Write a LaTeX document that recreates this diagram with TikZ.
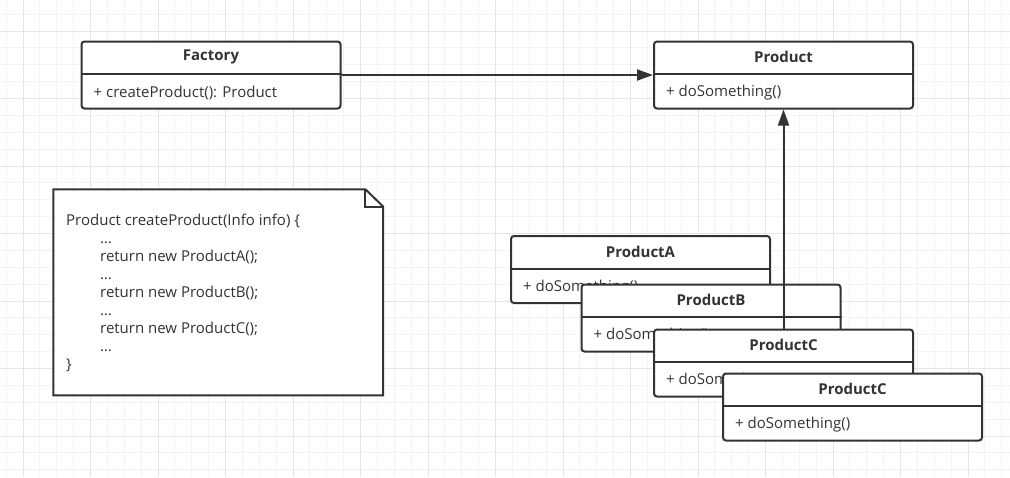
\documentclass[tikz,border=0pt]{standalone}
\usepackage{fontspec}
\setmainfont{Open Sans}
\usetikzlibrary{arrows.meta}
\pgfdeclarelayer{bg}
\pgfdeclarelayer{low}
\pgfsetlayers{bg,low,main}
\definecolor{ln}{HTML}{333333}
\definecolor{gmin}{HTML}{F3F3F3}
\definecolor{gmaj}{HTML}{E6E6E6}
\tikzset{
  classbox/.style={draw=ln, fill=white, line width=2pt, rounded corners=3pt,
    minimum width=259pt, minimum height=67pt, inner sep=0pt, anchor=north west},
  ctitle/.style={font=\fontsize{15}{17}\selectfont\bfseries, text=ln, inner sep=0pt},
  cmember/.style={font=\fontsize{15}{17}\selectfont, text=ln, inner sep=0pt, anchor=west},
  divider/.style={draw=ln, line width=2pt},
  conn/.style={draw=ln, line width=2pt, -{Triangle[length=16pt,width=11pt]}},
  minorgrid/.style={draw=gmin, line width=1pt},
  majorgrid/.style={draw=gmaj, line width=1pt},
}
\newcommand\umlclass[5]{%
  \node[classbox] (#1) at (#2,#3) {};
  \draw[divider] ([yshift=-33.5pt]#1.north west) -- ([yshift=-33.5pt]#1.north east);
  \node[ctitle] (#1-t) at ([yshift=-16.75pt]#1.north) {#4};
  \node[cmember] (#1-m) at ([xshift=13pt,yshift=16.75pt]#1.south west) {#5};
}
\begin{document}
\begin{tikzpicture}[x=1pt,y=-1pt]
\useasboundingbox (0,0) rectangle (1010,477);
\begin{pgfonlayer}{bg}
  \fill[white] (0,0) rectangle (1010,477);
  \foreach \i in {0,...,60} {\draw[minorgrid] ({6.125+\i*16.875},0) -- ++(0,477);}
  \foreach \i in {0,...,28} {\draw[minorgrid] (0,{14.125+\i*16.875}) -- ++(1010,0);}
  \foreach \i in {0,...,15} {\draw[majorgrid] ({23+\i*67.5},0) -- ++(0,477);}
  \foreach \i in {0,...,6} {\draw[majorgrid] (0,{31+\i*67.5}) -- ++(1010,0);}
\end{pgfonlayer}
\begin{pgfonlayer}{low}
  \umlclass{pa}{510}{235}{ProductA}{+ doSomething()}
  \umlclass{pb}{580.5}{283.5}{ProductB}{+ doSomething()}
\end{pgfonlayer}
\umlclass{fac}{80.5}{40.5}{Factory}{+ createProduct(): Product}
\umlclass{prod}{653}{40.5}{Product}{+ doSomething()}
\umlclass{pc1}{653}{328.5}{ProductC}{+ doSomething()}
\umlclass{pc2}{722}{372.5}{ProductC}{+ doSomething()}
\draw[conn] (fac.east) -- (prod.west);
\begin{pgfonlayer}{low}
  \draw[conn] (pc1.north) -- (prod.south);
\end{pgfonlayer}
% note
\node[minimum width=329.4pt, minimum height=205.7pt, anchor=north west, inner sep=0pt] (note) at (53.3,189.3) {};
\draw[ln, fill=white, line width=2pt] (note.north west) -- ([xshift=-17.7pt]note.north east)
  -- ([yshift=-17.2pt]note.north east) -- (note.south east) -- (note.south west) -- cycle;
\draw[ln, line width=2pt] ([xshift=-17.7pt]note.north east) -- ([xshift=-17.7pt,yshift=-17.2pt]note.north east)
  -- ([yshift=-17.2pt]note.north east);
\node[anchor=north west, align=left, font=\fontsize{15}{18}\selectfont, text=ln, inner sep=0pt] (code) at (66,213.5) {%
Product createProduct(Info info) \{\\
\hspace*{34pt}…\\
\hspace*{34pt}return new ProductA();\\
\hspace*{34pt}…\\
\hspace*{34pt}return new ProductB();\\
\hspace*{34pt}…\\
\hspace*{34pt}return new ProductC();\\
\hspace*{34pt}…\\
\}};
\end{tikzpicture}
\end{document}
